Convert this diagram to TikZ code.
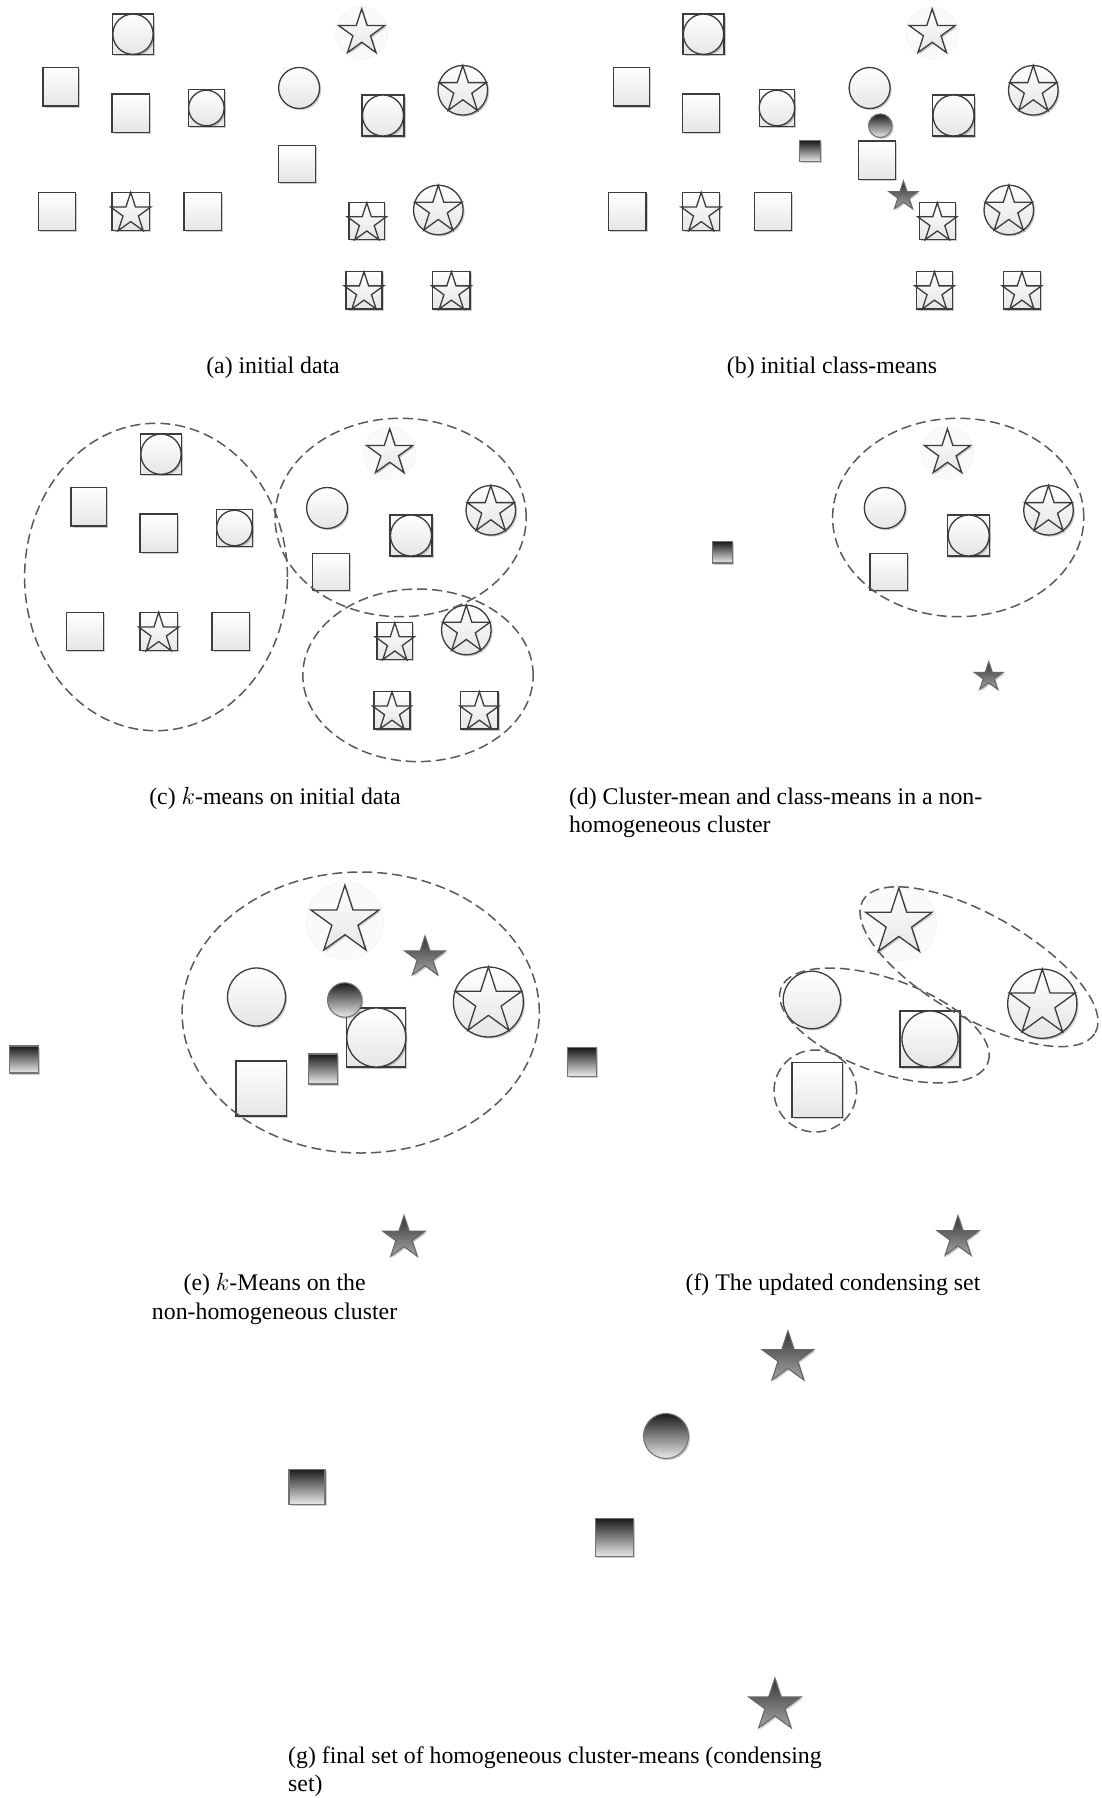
\documentclass[tikz,border=0pt]{standalone}
\usepackage{fontspec}
\setmainfont{Liberation Serif}
\usetikzlibrary{shapes.geometric,shadows}

\definecolor{rim}{HTML}{3C3C3C}
\definecolor{dashgray}{HTML}{5A5A5A}

\tikzset{
  shadowed/.style={drop shadow={shadow xshift=1.6pt,shadow yshift=-1.6pt,opacity=0.2,fill=black}},
  lite/.style={draw=rim,line width=1.3pt,top color=white,bottom color=black!10,inner sep=0pt,outer sep=0pt},
  mean/.style={draw=black!55,line width=1.1pt,top color=black!90,bottom color=black!8,inner sep=0pt,outer sep=0pt,shadowed},
  meanstar/.style={draw=black!60,line width=1.1pt,top color=black!80,bottom color=black!35,inner sep=0pt,outer sep=0pt,shadowed},
  box/.style={rectangle},
  ring/.style={circle},
  pentastar/.style={star,star points=5,star point ratio=2.618},
  halo/.style={circle,fill=black!2,draw=black!7,densely dotted,line width=0.8pt,inner sep=0pt,outer sep=0pt},
  cluster/.style={draw=dashgray,line width=1.5pt,dash pattern=on 10pt off 5pt},
  caption/.style={inner sep=0pt,font=\fontsize{23.8}{28.5}\selectfont},
}

% light data points: name, x, y, size(s)
\newcommand\pSq[5]{\node[lite,box,shadowed,minimum width=#4pt,minimum height=#5pt] (#1) at (#2,#3) {};}
\newcommand\pCi[4]{\node[lite,ring,shadowed,minimum size=#4pt] (#1) at (#2,#3) {};}
\newcommand\pSqCi[5]{%
  \pSq{#1}{#2}{#3}{#4}{#5}%
  \pgfmathsetmacro\tmpD{min(#4,#5)}%
  \node[lite,ring,shadowed,minimum size=\tmpD pt] (#1-in) at (#1.center) {};}
\newcommand\pSqSt[5]{%
  \pSq{#1}{#2}{#3}{#4}{#5}%
  \pgfmathsetmacro\tmpD{2*(#5)/1.809}%
  \pgfmathsetmacro\tmpY{#3-(#5)/2+(#5)/1.809}%
  \node[lite,pentastar,minimum size=\tmpD pt] (#1-in) at (#2,\tmpY) {};}
\newcommand\pCiSt[4]{%
  \pCi{#1}{#2}{#3}{#4}%
  \node[lite,pentastar,minimum size=#4pt] (#1-in) at (#1.center) {};}
\newcommand\pHaloSt[4]{%
  \pgfmathsetmacro\tmpD{1.08*(#4)}%
  \node[halo,minimum size=\tmpD pt] (#1-halo) at (#2,#3) {};
  \node[lite,pentastar,shadowed,minimum size=#4pt] (#1) at (#2,#3) {};}

% means (dark, shaded)
\newcommand\mSq[5]{\node[mean,box,minimum width=#4pt,minimum height=#5pt] (#1) at (#2,#3) {};}
\newcommand\mCi[4]{\node[mean,ring,minimum size=#4pt] (#1) at (#2,#3) {};}
\newcommand\mSt[4]{\node[meanstar,pentastar,minimum size=#4pt] (#1) at (#2,#3) {};}

% the data set, split in three groups: prefix, dx, dy
\newcommand\GroupLeft[3]{%
  \pSqCi{#1a}{#2+133}{#3+34.2}{41}{40.3}
  \pSq{#1b}{#2+60.8}{#3+86.7}{35.8}{38.7}
  \pSq{#1c}{#2+130.7}{#3+113.2}{37.2}{38.3}
  \pSqCi{#1d}{#2+206.4}{#3+108}{35.5}{37.3}
  \pSq{#1e}{#2+56.9}{#3+211.5}{37.2}{38.3}
  \pSqSt{#1f}{#2+130.7}{#3+211.5}{37.2}{38.3}
  \pSq{#1g}{#2+202.7}{#3+211.5}{37.2}{38.3}}
\newcommand\GroupTop[3]{%
  \pCi{#1h}{#2+299.1}{#3+88}{41}
  \pHaloSt{#1i}{#2+361.7}{#3+33}{48.4}
  \pSqCi{#1j}{#2+383}{#3+115.5}{42.2}{41}
  \pCiSt{#1k}{#2+462.8}{#3+90.3}{49.6}}
\newcommand\GroupLow[3]{%
  \pSqSt{#1l}{#2+366.8}{#3+221.2}{35.8}{37}
  \pCiSt{#1m}{#2+438.3}{#3+210}{49.6}
  \pSqSt{#1n}{#2+364}{#3+290.3}{35.8}{37.3}
  \pSqSt{#1o}{#2+451.4}{#3+290.3}{37.2}{37.3}}

\begin{document}
\begin{tikzpicture}[x=1pt,y=-1pt]
\fill[white] (0,0) rectangle (1102,1798);
\useasboundingbox (0,0) rectangle (1102,1798);

% (a) initial data
\GroupLeft{a}{0}{0}
\GroupTop{a}{0}{0}
\GroupLow{a}{0}{0}
\pSq{ap}{296.7}{163.8}{36.9}{37}
\node[caption,anchor=base] (capa) at (273,373) {(a) initial data};

% (b) initial class-means
\GroupLeft{b}{570.5}{0}
\GroupTop{b}{570.5}{0}
\GroupLow{b}{570.5}{0}
\pSq{bp}{877}{160.2}{37.2}{38.3}
\mSq{bms}{810.1}{151.2}{21.4}{21}
\mCi{bmc}{880.3}{125.7}{23.6}
\mSt{bmt}{903.4}{196.3}{30.6}
\node[caption,anchor=base] (capb) at (832,373) {(b) initial class-means};

% (c) k-means on the initial data
\GroupLeft{c}{28}{420}
\GroupTop{c}{28}{420}
\GroupLow{c}{28}{420}
\pSq{cp}{330.9}{572.2}{37.2}{37}
\draw[cluster] (156,577) ellipse [x radius=131.4pt,y radius=153.7pt];
\draw[cluster] (400.6,517.5) ellipse [x radius=125.6pt,y radius=99.2pt];
\draw[cluster] (418,675.3) ellipse [x radius=115.2pt,y radius=86.3pt];
\node[caption,anchor=base] (capc) at (275,804) {(c) $k$-means on initial data};

% (d) the non-homogeneous cluster with its cluster-mean and class-means
\GroupTop{d}{585.7}{420}
\pSq{dp}{888.6}{572.2}{37.2}{37}
\draw[cluster] (958.2,517.5) ellipse [x radius=125.6pt,y radius=99.2pt];
\mSq{dms}{722.4}{552.3}{20.4}{21.3}
\mSt{dmt}{988.7}{677}{30.4}
\node[caption,anchor=base west] (capd1) at (568.8,804) {(d) Cluster-mean and class-means in a non-};
\node[caption,anchor=base west] (capd2) at (568.8,832) {homogeneous cluster};

% (e) k-means on the non-homogeneous cluster
\pHaloSt{ei}{344.9}{921}{71.6}
\pCi{eh}{256.5}{997}{58}
\pSqCi{ej}{376.3}{1037.5}{59}{59}
\pCiSt{ek}{488.4}{1002}{70}
\pSq{ep}{261.2}{1088.5}{50.3}{55}
\mSt{emt}{425}{957.5}{43}
\mSq{ems}{322.9}{1069}{28.8}{30}
\mCi{emc}{344.7}{1000}{34.4}
\mSq{ems2}{24.2}{1059.5}{28.8}{27}
\mSt{emt2}{404}{1238}{45}
\draw[cluster] (360.7,1012.5) ellipse [x radius=178.6pt,y radius=140.5pt];
\node[caption,anchor=base] (cape1) at (274.6,1290.5) {(e) $k$-Means on the};
\node[caption,anchor=base] (cape2) at (274.6,1319) {non-homogeneous cluster};

% (f) the updated condensing set
\pHaloSt{fi}{898.8}{923}{70}
\pCi{fh}{811.9}{1000}{57.5}
\pSqCi{fj}{930}{1039}{60}{56}
\pCiSt{fk}{1042.3}{1003.7}{69.2}
\pSq{fp}{817.3}{1090}{50.6}{54.7}
\mSq{fms}{582.3}{1062}{28.8}{28.3}
\mSt{fmt}{958}{1237.5}{44}
\draw[cluster] (815.3,1091) ellipse [x radius=41.3pt,y radius=41pt];
\draw[cluster,rotate around={-19.6:(884.4,1025.5)}] (884.4,1025.5) ellipse [x radius=110pt,y radius=46.7pt];
\draw[cluster,rotate around={-29.6:(979,966.7)}] (979,966.7) ellipse [x radius=133.7pt,y radius=51.7pt];
\node[caption,anchor=base] (capf) at (833,1290.5) {(f) The updated condensing set};

% (g) final set of homogeneous cluster-means
\mSt{gt1}{787.9}{1358}{54.4}
\mCi{gc}{666}{1436}{45}
\mSq{gs1}{307}{1486.7}{36}{35}
\mSq{gs2}{614.5}{1537.5}{38.7}{38.4}
\mSt{gt2}{774.9}{1705.5}{55}
\node[caption,anchor=base west] (capg1) at (288,1763) {(g) final set of homogeneous cluster-means (condensing};
\node[caption,anchor=base west] (capg2) at (288,1791) {set)};
\end{tikzpicture}
\end{document}
